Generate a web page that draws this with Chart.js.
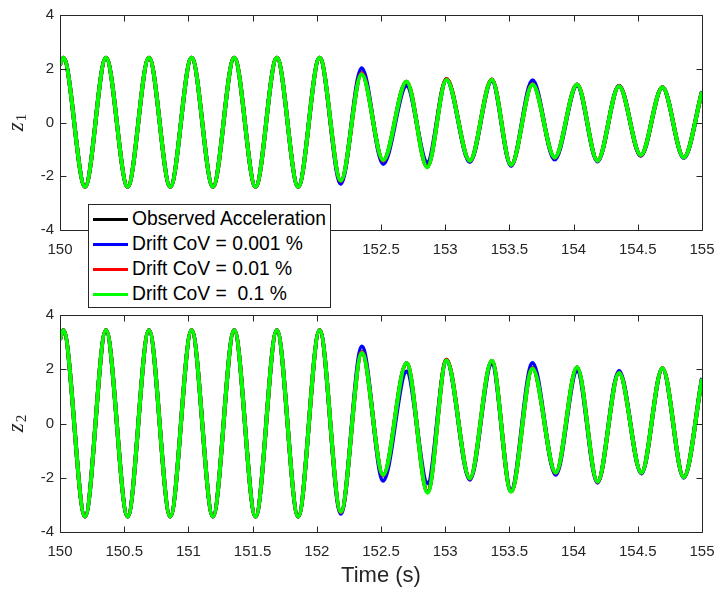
<!DOCTYPE html>
<html>
<head>
<meta charset="utf-8">
<script src="https://cdn.jsdelivr.net/npm/chart.js@4.4.1/dist/chart.umd.min.js"></script>
<style>
  html, body { margin: 0; padding: 0; background: #fff; }
  #wrap { position: relative; width: 714px; height: 589px; overflow: hidden; }
  canvas { position: absolute; left: 0; }
  #cTop { top: 0; }
  #cBottom { top: 300px; }
  #legend {
    position: absolute; left: 88px; top: 204px; width: 241px; height: 102px;
    border: 1px solid #262626; background: #fff;
    font: 19.3px "Liberation Sans", Arial, sans-serif; color: #000;
  }
  .row { position: absolute; left: 0; height: 24px; line-height: 24px; white-space: pre; }
  .sw { position: absolute; left: 4px; width: 35px; height: 3px; top: 11px; }
  .lbl { position: absolute; left: 43px; top: 0; }
</style>
</head>
<body>
<div id="wrap">
  <canvas id="cTop" width="714" height="300"></canvas>
  <canvas id="cBottom" width="714" height="289"></canvas>
  <div id="legend"></div>
</div>
<script>
// Time axis ticks and value-axis ticks
const xTicks = [150, 150.5, 151, 151.5, 152, 152.5, 153, 153.5, 154, 154.5, 155];
const yTicks = [-4, -2, 0, 2, 4];

// Series names and colours
const seriesNames = ['Observed Acceleration', 'Drift CoV = 0.001 %', 'Drift CoV = 0.01 %', 'Drift CoV =  0.1 %'];
const seriesColors = ['#000000', '#0000ff', '#ff0000', '#00ff00'];

// z1: sample times (turning points of the response) and values
const t1 = [150, 150.026, 150.195, 150.358, 150.527, 150.693, 150.859, 151.025, 151.191, 151.357, 151.523, 151.689, 151.855, 152.022, 152.187,
            152.349, 152.517, 152.699, 152.860, 153.010, 153.192, 153.363, 153.513, 153.680, 153.853, 154.027, 154.186, 154.354, 154.523, 154.692, 154.858, 155];
const z1Observed = [2.15, 2.41, -2.39, 2.41, -2.39, 2.41, -2.39, 2.41, -2.39, 2.41, -2.39, 2.41, -2.39, 2.41, -2.18,
                    1.83, -1.42, 1.52, -1.65, 1.62, -1.43, 1.60, -1.58, 1.43, -1.31, 1.41, -1.42, 1.36, -1.22, 1.31, -1.30, 1.14];
const z1Cov0001 = [2.15, 2.41, -2.39, 2.41, -2.39, 2.41, -2.39, 2.41, -2.39, 2.41, -2.39, 2.41, -2.39, 2.41, -2.28,
                   2.02, -1.54, 1.37, -1.48, 1.59, -1.47, 1.55, -1.62, 1.57, -1.38, 1.38, -1.45, 1.37, -1.24, 1.31, -1.32, 1.16];
const z1Cov001 = [2.15, 2.41, -2.39, 2.41, -2.39, 2.41, -2.39, 2.41, -2.39, 2.41, -2.39, 2.41, -2.39, 2.41, -2.18,
                  1.83, -1.42, 1.52, -1.65, 1.62, -1.43, 1.60, -1.58, 1.43, -1.31, 1.41, -1.42, 1.36, -1.22, 1.31, -1.30, 1.14];
const z1Cov01 = [2.15, 2.41, -2.39, 2.41, -2.39, 2.41, -2.39, 2.41, -2.39, 2.41, -2.39, 2.41, -2.39, 2.41, -2.16,
                 1.80, -1.40, 1.53, -1.67, 1.59, -1.42, 1.59, -1.58, 1.41, -1.30, 1.41, -1.42, 1.35, -1.21, 1.31, -1.30, 1.14];

// z2: sample times and values
const t2 = [150, 150.026, 150.195, 150.358, 150.527, 150.693, 150.859, 151.025, 151.191, 151.357, 151.523, 151.689, 151.855, 152.022, 152.187,
            152.351, 152.517, 152.699, 152.863, 153.010, 153.192, 153.363, 153.513, 153.680, 153.861, 154.027, 154.186, 154.354, 154.528, 154.692, 154.858, 155];
const z2Observed = [3.09, 3.44, -3.43, 3.44, -3.43, 3.44, -3.43, 3.44, -3.43, 3.44, -3.43, 3.44, -3.43, 3.44, -3.27,
                    2.63, -1.91, 2.22, -2.52, 2.35, -2.03, 2.30, -2.50, 2.04, -1.82, 2.06, -2.15, 1.87, -1.81, 2.04, -1.98, 1.65];
const z2Cov0001 = [3.09, 3.44, -3.43, 3.44, -3.43, 3.44, -3.43, 3.44, -3.43, 3.44, -3.43, 3.44, -3.43, 3.44, -3.33,
                   2.84, -2.11, 1.92, -2.20, 2.30, -2.07, 2.20, -2.45, 2.23, -1.89, 1.94, -2.18, 1.94, -1.84, 2.02, -2.00, 1.68];
const z2Cov001 = [3.09, 3.44, -3.43, 3.44, -3.43, 3.44, -3.43, 3.44, -3.43, 3.44, -3.43, 3.44, -3.43, 3.44, -3.27,
                  2.63, -1.91, 2.22, -2.52, 2.35, -2.03, 2.30, -2.50, 2.04, -1.82, 2.06, -2.15, 1.87, -1.81, 2.04, -1.98, 1.65];
const z2Cov01 = [3.09, 3.44, -3.43, 3.44, -3.43, 3.44, -3.43, 3.44, -3.43, 3.44, -3.43, 3.44, -3.43, 3.44, -3.25,
                 2.60, -1.89, 2.23, -2.55, 2.32, -2.02, 2.31, -2.51, 2.02, -1.81, 2.07, -2.14, 1.86, -1.81, 2.04, -1.98, 1.65];

const AXIS_COLOR = '#262626';
const TICK_FONT = { family: '"Liberation Sans", Arial, sans-serif', size: 15 };
const SERIF = '"Liberation Serif", "DejaVu Serif", serif';

// Boxed axes with inward ticks on all four sides, plus the subscripted axis label
const boxAxes = {
  id: 'boxAxes',
  afterDraw(chart, args, opts) {
    const { ctx, chartArea: a, scales: { x, y } } = chart;
    const L = 6;
    ctx.save();
    ctx.strokeStyle = AXIS_COLOR;
    ctx.lineWidth = 1;
    const l = Math.round(a.left) + 0.5, r = Math.round(a.right) + 0.5;
    const tp = Math.round(a.top) + 0.5, bt = Math.round(a.bottom) + 0.5;
    ctx.beginPath();
    ctx.rect(l, tp, r - l, bt - tp);
    x.ticks.forEach(tk => {
      const px = Math.round(x.getPixelForValue(tk.value)) + 0.5;
      ctx.moveTo(px, bt); ctx.lineTo(px, bt - L);
      ctx.moveTo(px, tp); ctx.lineTo(px, tp + L);
    });
    y.ticks.forEach(tk => {
      const py = Math.round(y.getPixelForValue(tk.value)) + 0.5;
      ctx.moveTo(l, py); ctx.lineTo(l + L, py);
      ctx.moveTo(r, py); ctx.lineTo(r - L, py);
    });
    ctx.stroke();

    // axis label: italic z with an upright subscript, rotated
    const cy = (a.top + a.bottom) / 2;
    ctx.translate(opts.labelX, cy);
    ctx.rotate(-Math.PI / 2);
    ctx.fillStyle = AXIS_COLOR;
    ctx.textBaseline = 'alphabetic';
    const mainFont = 'italic 23px ' + SERIF, subFont = '15px ' + SERIF;
    ctx.font = mainFont;
    const wz = ctx.measureText('z').width;
    ctx.font = subFont;
    const ws = ctx.measureText(opts.sub).width;
    const x0 = -(wz + ws + 1) / 2;
    ctx.font = mainFont;
    ctx.fillText('z', x0, 0);
    ctx.font = subFont;
    ctx.fillText(opts.sub, x0 + wz + 1, 3);
    ctx.restore();
  }
};

function buildChart(id, times, values, sub, layout) {
  const datasets = values.map((vals, i) => ({
    label: seriesNames[i],
    data: times.map((t, k) => ({ x: t, y: vals[k] })),
    borderColor: seriesColors[i],
    backgroundColor: seriesColors[i],
    borderWidth: 4,
    pointRadius: 0,
    fill: false,
    cubicInterpolationMode: 'monotone',
    order: values.length - 1 - i
  }));
  return new Chart(document.getElementById(id), {
    type: 'line',
    data: { datasets },
    plugins: [boxAxes],
    options: {
      responsive: false,
      animation: false,
      devicePixelRatio: 1,
      layout: { padding: { top: layout.top, right: 0, left: 0, bottom: 0 } },
      plugins: {
        legend: { display: false },
        tooltip: { enabled: false },
        boxAxes: { sub, labelX: 23 }
      },
      scales: {
        x: {
          type: 'linear', min: 150, max: 155,
          afterBuildTicks: s => { s.ticks = xTicks.map(v => ({ value: v })); },
          afterFit: s => { s.height = layout.xHeight; s.paddingRight = 12; s.paddingLeft = 0; },
          grid: { display: false, drawTicks: false },
          border: { display: false },
          ticks: { color: AXIS_COLOR, font: TICK_FONT, padding: 11, maxRotation: 0, autoSkip: false,
                   callback: v => String(v) },
          title: layout.xTitle ? { display: true, text: layout.xTitle, color: AXIS_COLOR,
                   font: { family: '"Liberation Sans", Arial, sans-serif', size: 22 }, padding: { top: 0, bottom: 0 } }
                 : { display: false }
        },
        y: {
          type: 'linear', min: -4, max: 4,
          afterBuildTicks: s => { s.ticks = yTicks.map(v => ({ value: v })); },
          afterFit: s => { s.width = 60; },
          grid: { display: false, drawTicks: false },
          border: { display: false },
          ticks: { color: AXIS_COLOR, font: TICK_FONT, padding: 6, callback: v => String(v) }
        }
      }
    }
  });
}

buildChart('cTop', t1, [z1Observed, z1Cov0001, z1Cov001, z1Cov01], '1', { top: 13, xHeight: 70 });
buildChart('cBottom', t2, [z2Observed, z2Cov0001, z2Cov001, z2Cov01], '2', { top: 15, xHeight: 57, xTitle: 'Time (s)' });

// Legend box
const legend = document.getElementById('legend');
const rowCenters = [14, 39, 64, 89];
seriesNames.forEach((name, i) => {
  const row = document.createElement('div');
  row.className = 'row';
  row.style.top = (rowCenters[i] - 12) + 'px';
  row.style.width = '100%';
  const sw = document.createElement('div');
  sw.className = 'sw';
  sw.style.background = seriesColors[i];
  const lbl = document.createElement('span');
  lbl.className = 'lbl';
  lbl.textContent = name;
  row.appendChild(sw);
  row.appendChild(lbl);
  legend.appendChild(row);
});
</script>
</body>
</html>
